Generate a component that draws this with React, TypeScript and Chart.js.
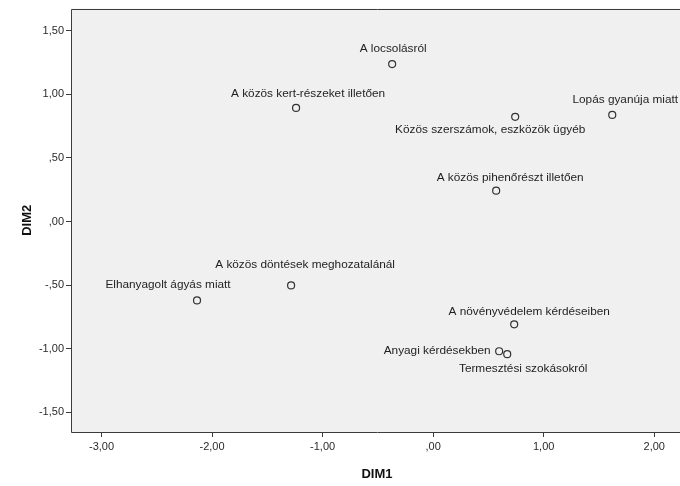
import React, { useEffect, useRef } from "react";
import { Chart, registerables } from "chart.js";

Chart.register(...registerables);

const labels = [
  "A locsolásról",
  "A közös kert-részeket illetően",
  "Közös szerszámok, eszközök ügyéb",
  "Lopás gyanúja miatt",
  "A közös pihenőrészt illetően",
  "A közös döntések meghozatalánál",
  "Elhanyagolt ágyás miatt",
  "A növényvédelem kérdéseiben",
  "Anyagi kérdésekben",
  "Termesztési szokásokról",
];
const dim1 = [-0.371, -1.24, 0.742, 1.62, 0.57, -1.285, -2.136, 0.733, 0.597, 0.67];
const dim2 = [1.239, 0.894, 0.824, 0.839, 0.243, -0.502, -0.62, -0.808, -1.02, -1.043];
const xTicks = [-3, -2, -1, 0, 1, 2];
const yTicks = [-1.5, -1, -0.5, 0, 0.5, 1, 1.5];

// label placement offsets (pixels) relative to each point
const labelDx = [1, 12, -25, 13, 14, 14, -29, 15, -62, 16];
const labelDy = [-15, -14, 13, -15, -13, -21, -16, -13, -1, 15];

const fmt = (v: number) => {
  let s = Math.abs(v).toFixed(2).replace(".", ",");
  if (s.startsWith("0")) s = s.slice(1);
  return (v < 0 ? "-" : "") + s;
};

const FONT = "Arial, 'Liberation Sans', sans-serif";

const boxPlugin = {
  id: "spssBox",
  beforeDraw(chart: any) {
    const { ctx, chartArea: a } = chart;
    ctx.save();
    ctx.fillStyle = "#f0f0f0";
    ctx.fillRect(a.left, a.top, a.right - a.left, a.bottom - a.top);
    ctx.restore();
  },
  afterDraw(chart: any) {
    const { ctx, chartArea: a } = chart;
    ctx.save();
    ctx.strokeStyle = "#3c3c3c";
    ctx.lineWidth = 1;
    ctx.beginPath();
    ctx.moveTo(a.right + 0.5, Math.round(a.top) + 0.5);
    ctx.lineTo(Math.round(a.left) + 0.5, Math.round(a.top) + 0.5);
    ctx.lineTo(Math.round(a.left) + 0.5, Math.round(a.bottom) + 0.5);
    ctx.lineTo(a.right + 0.5, Math.round(a.bottom) + 0.5);
    ctx.stroke();

    // point labels
    const meta = chart.getDatasetMeta(0);
    ctx.font = `11.8px ${FONT}`;
    ctx.fillStyle = "#1e1e1e";
    ctx.textAlign = "center";
    ctx.textBaseline = "middle";
    meta.data.forEach((pt: any, i: number) => {
      ctx.fillText(labels[i], pt.x + labelDx[i], pt.y + labelDy[i]);
    });

    // axis titles
    ctx.font = `bold 13px ${FONT}`;
    ctx.fillStyle = "#111";
    ctx.fillText("DIM1", (a.left + a.right) / 2, 474);
    ctx.translate(27, (a.top + a.bottom) / 2);
    ctx.rotate(-Math.PI / 2);
    ctx.fillText("DIM2", 0, 0);
    ctx.restore();
  },
};

export default function App() {
  const ref = useRef<HTMLCanvasElement>(null);
  useEffect(() => {
    if (!ref.current) return;
    const chart = new Chart(ref.current, {
      type: "scatter",
      data: {
        datasets: [
          {
            data: dim1.map((x, i) => ({ x, y: dim2[i] })),
            pointRadius: 3.5,
            pointBorderWidth: 1.2,
            pointBorderColor: "#333",
            pointBackgroundColor: "rgba(0,0,0,0)",
          },
        ],
      },
      options: {
        animation: false,
        responsive: false,
        layout: { padding: { top: 7.5, right: 7, left: 0, bottom: 0 } },
        plugins: { legend: { display: false }, tooltip: { enabled: false } },
        scales: {
          x: {
            type: "linear",
            min: -3.276,
            max: 2.26,
            afterBuildTicks: (s: any) => {
              s.ticks = xTicks.map((v) => ({ value: v }));
            },
            afterFit: (s: any) => {
              s.height = 54;
            },
            grid: { drawOnChartArea: false, drawTicks: true, tickLength: 5, color: "#3c3c3c" },
            border: { display: false },
            ticks: {
              callback: (v: any) => fmt(Number(v)),
              font: { family: FONT, size: 11 },
              color: "#2a2a2a",
              padding: 3,
              maxRotation: 0,
              autoSkip: false,
            },
          },
          y: {
            type: "linear",
            min: -1.655,
            max: 1.675,
            afterBuildTicks: (s: any) => {
              s.ticks = yTicks.map((v) => ({ value: v }));
            },
            afterFit: (s: any) => {
              s.width = 71;
            },
            grid: { drawOnChartArea: false, drawTicks: true, tickLength: 5, color: "#3c3c3c" },
            border: { display: false },
            ticks: {
              callback: (v: any) => fmt(Number(v)),
              font: { family: FONT, size: 11 },
              color: "#2a2a2a",
              padding: 2,
              autoSkip: false,
            },
          },
        },
      },
      plugins: [boxPlugin],
    });
    return () => chart.destroy();
  }, []);
  return (
    <div
      style={{
        position: "fixed",
        left: 0,
        top: 0,
        width: 680,
        height: 486,
        overflow: "hidden",
        background: "#fff",
      }}
    >
      <canvas ref={ref} width={690} height={486} style={{ display: "block" }} />
    </div>
  );
}
